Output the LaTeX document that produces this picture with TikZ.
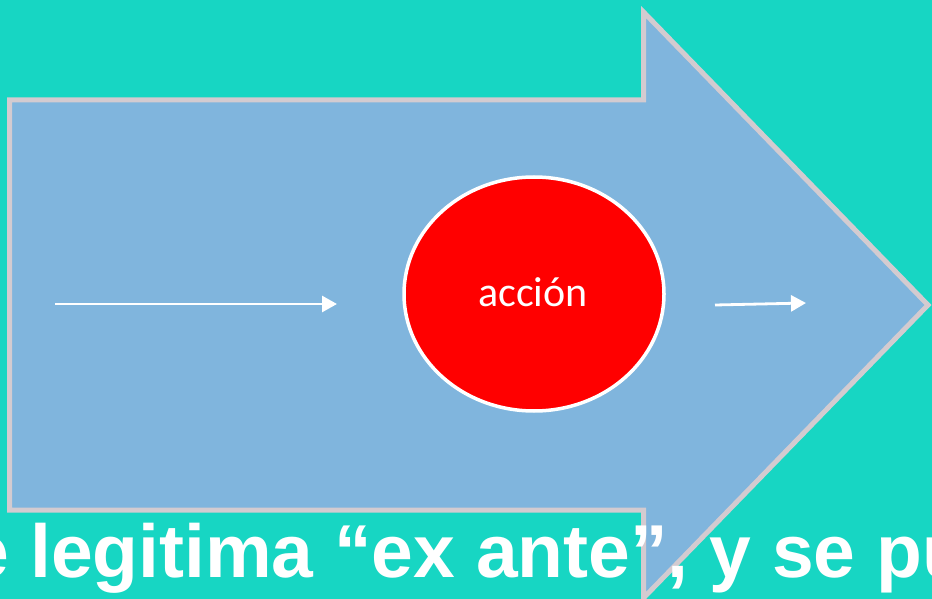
\documentclass[tikz,border=0pt]{standalone}
\usepackage{fontspec}
\setmainfont{Liberation Sans}
\newfontfamily\calib{Carlito}
\usetikzlibrary{arrows.meta}
\usetikzlibrary{shapes.geometric}
\definecolor{bgteal}{HTML}{17D6C3}
\definecolor{arrowblue}{HTML}{80B5DD}
\definecolor{bordergray}{HTML}{D3CBD0}
\definecolor{actred}{HTML}{FF0000}
\tikzset{
  bigarrow/.style={fill=arrowblue, draw=bordergray, line width=5pt, line join=miter},
  actnode/.style={ellipse, fill=actred, draw=white, line width=3.5pt, minimum width=260pt, minimum height=234pt, inner sep=0pt},
  flowarrow/.style={draw=white, line width=2.8pt, -{Triangle[length=15pt,width=16pt]}},
}
\begin{document}
\begin{tikzpicture}[x=1pt,y=-1pt]
\useasboundingbox (0,0) rectangle (932,599);
\clip (0,0) rectangle (932,599);
\fill[bgteal] (0,0) rectangle (932,599);
\draw[bigarrow] (9.5,100) -- (643.5,100) -- (643.5,12) -- (928,305) -- (643.5,598) -- (643.5,510) -- (9.5,510) -- cycle;
\node[actnode] (act) at (534,294) {};
\node[anchor=base, text=white, inner sep=0pt, font=\calib\fontsize{42}{50}\selectfont] (actlbl) at (533,306) {acción};
\coordinate (a1s) at (55,304);
\coordinate (a1e) at (337,304);
\coordinate (a2s) at (715,305);
\coordinate (a2e) at (806,303);
\draw[flowarrow] (a1s) -- (a1e);
\draw[flowarrow] (a2s) -- (a2e);
\node[anchor=base west, text=white, inner sep=0pt, font=\bfseries\fontsize{75}{90}\selectfont] (caption) at (-32.5,577) {e legitima “ex ante”, y se pu};
\end{tikzpicture}
\end{document}
